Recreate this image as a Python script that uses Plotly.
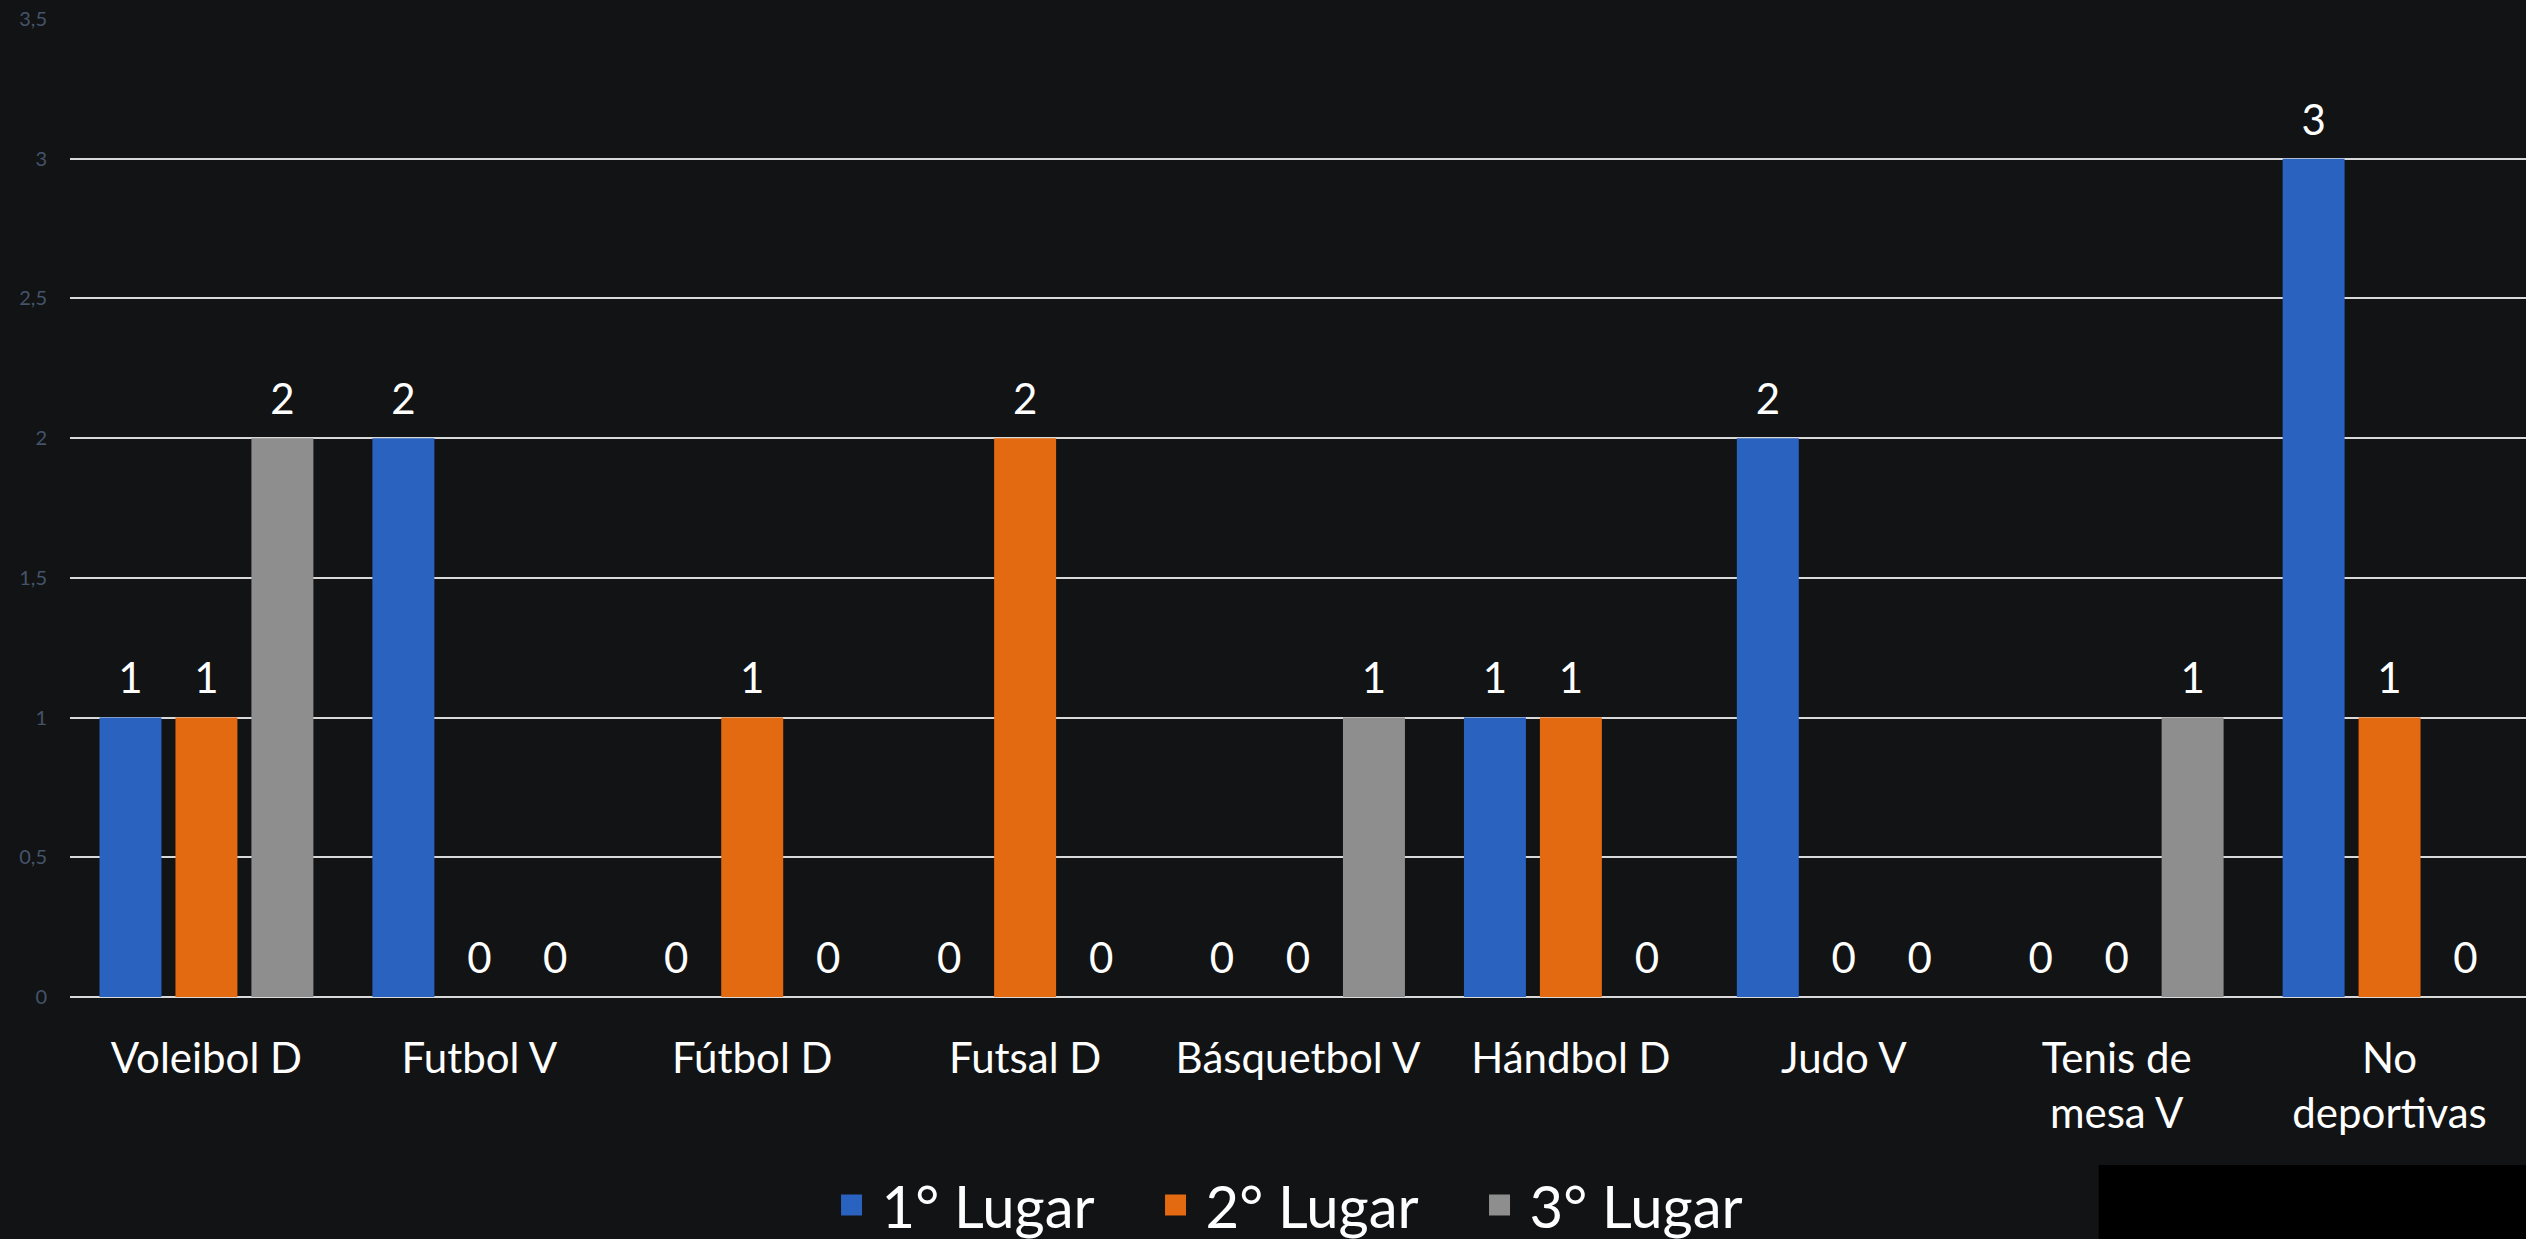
import plotly.graph_objects as go

categories = ["Voleibol D", "Futbol V", "Fútbol D", "Futsal D", "Básquetbol V",
              "Hándbol D", "Judo V", "Tenis de<br>mesa V", "No<br>deportivas"]
primer_lugar = [1, 2, 0, 0, 0, 1, 2, 0, 3]
segundo_lugar = [1, 0, 1, 2, 0, 1, 0, 0, 1]
tercer_lugar = [2, 0, 0, 0, 1, 0, 0, 1, 0]
series_names = ["1° Lugar", "2° Lugar", "3° Lugar"]
series_values = [primer_lugar, segundo_lugar, tercer_lugar]
series_colors = ["#2a62c0", "#e46a12", "#8e8e8e"]
y_ticks = [0, 0.5, 1, 1.5, 2, 2.5, 3, 3.5]
y_tick_labels = ["0", "0,5", "1", "1,5", "2", "2,5", "3", "3,5"]

BG = "#121315"
FONT = "Lato, 'Noto Sans', sans-serif"

fig = go.Figure()
for name, vals, col in zip(series_names, series_values, series_colors):
    fig.add_trace(go.Bar(
        x=categories, y=vals, name=name,
        marker=dict(color=col, line=dict(width=0)),
        texttemplate="<span style='font-size:42px'>%{y}</span><br>&nbsp;",
        textposition="outside",
        textfont=dict(family=FONT, size=14, color="#ffffff"),
        constraintext="none",
        cliponaxis=False,
        showlegend=False,
    ))

# legend entries
for name, col in zip(series_names, series_colors):
    fig.add_trace(go.Scatter(
        x=[None], y=[None], mode="markers", name=name,
        marker=dict(symbol="square", size=16, color=col, line=dict(width=5, color=col)),
        showlegend=True,
    ))

fig.update_layout(
    width=2526, height=1239,
    margin=dict(l=70, r=0, t=19, b=242, autoexpand=False),
    paper_bgcolor=BG, plot_bgcolor=BG,
    barmode="group", bargap=0.165, bargroupgap=0.184,
    font=dict(family=FONT, color="#ffffff"),
    legend=dict(
        orientation="h", x=0.306, xanchor="left", y=-0.213, yanchor="middle",
        font=dict(family=FONT, size=58, color="#ffffff"),
        bgcolor="rgba(0,0,0,0)", entrywidth=259, entrywidthmode="pixels",
        itemsizing="trace", itemwidth=50,
    ),
    xaxis=dict(
        tickfont=dict(family=FONT, size=42, color="#ffffff"),
        showgrid=False, zeroline=False, showline=False, ticks="",
        ticklabelstandoff=33, automargin=False,
    ),
    yaxis=dict(
        range=[0, 3.5], tickvals=y_ticks, ticktext=y_tick_labels,
        tickfont=dict(family=FONT, size=20, color="#44546a"),
        showgrid=True, gridcolor="#d9d9d9", gridwidth=2,
        zeroline=True, zerolinecolor="#d9d9d9", zerolinewidth=2,
        showline=False, ticks="", ticklabelstandoff=22, automargin=False,
    ),
    shapes=[dict(type="rect", xref="paper", yref="paper",
                 x0=0.826, x1=1.0, y0=-0.2474, y1=-0.1718,
                 fillcolor="#000000", line=dict(width=0), layer="above")],
)

fig.write_html(
    "out.html",
    config={"displayModeBar": False},
    post_script="document.body.style.margin='0';document.body.style.background='#121315';",
)
